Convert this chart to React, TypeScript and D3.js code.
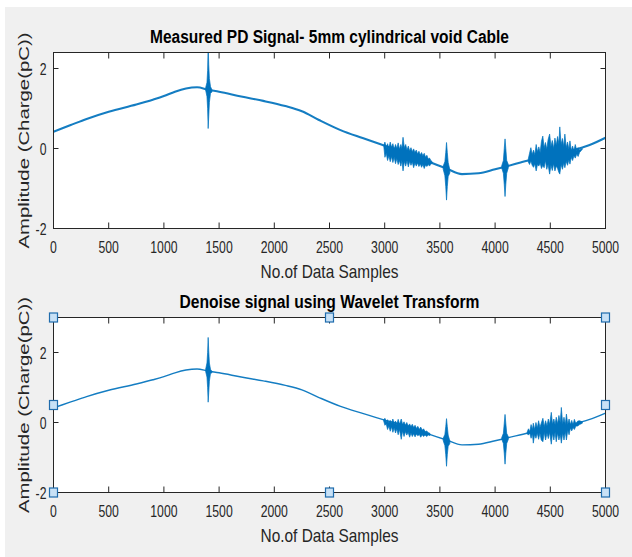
import React from 'react';
import * as d3 from 'd3';

const W = 632;
const H = 557;

const xTicks = [0, 500, 1000, 1500, 2000, 2500, 3000, 3500, 4000, 4500, 5000];
const yTicks = [-2, 0, 2];
const topYDomain: [number, number] = [-2, 2.4];
const botYDomain: [number, number] = [-2, 3];

const titles = ['Measured PD Signal- 5mm cylindrical void Cable', 'Denoise signal using Wavelet Transform'];
const xLabel = 'No.of Data Samples';
const yLabel = 'Amplitude (Charge(pC))';

// slow component of the signal: [sample, value]
const baseline: [number, number][] = [
  [0, 0.42], [150, 0.58], [300, 0.74], [500, 0.92], [750, 1.1], [900, 1.22], [1000, 1.31], [1100, 1.42],
  [1200, 1.5], [1300, 1.53], [1400, 1.47], [1500, 1.42], [1700, 1.3], [1900, 1.19], [2100, 1.06],
  [2250, 0.93], [2400, 0.72], [2600, 0.46], [2800, 0.26], [3000, 0.07], [3200, -0.1], [3400, -0.33],
  [3560, -0.5], [3700, -0.64], [3850, -0.62], [4000, -0.52], [4100, -0.45], [4300, -0.3],
  [4500, -0.18], [4700, -0.05], [4850, 0.08], [5000, 0.27],
];

// PD bursts of the measured signal: [sample, upper, lower]
const measSpikeA: [number, number, number][] = [
  [1378, 1.52, 1.46], [1390, 1.65, 1.3], [1396, 1.95, 1.0], [1401, 2.6, 0.5], [1406, 2.1, 0.8],
  [1412, 1.75, 1.15], [1422, 1.55, 1.38], [1435, 1.47, 1.41],
];
const measBurst1: [number, number, number][] = [
  [2992, 0.08, 0.05], [3002, 0.16, -0.22], [3014, 0.02, -0.12], [3026, 0.12, -0.3], [3038, 0.0, -0.18],
  [3050, 0.16, -0.33], [3062, 0.03, -0.2], [3074, 0.12, -0.35], [3086, -0.02, -0.22], [3098, 0.1, -0.38],
  [3110, 0.0, -0.25], [3122, 0.14, -0.4], [3134, -0.02, -0.3], [3146, 0.1, -0.44], [3156, 0.0, -0.3],
  [3166, 0.28, -0.56], [3178, 0.02, -0.32], [3190, 0.1, -0.44], [3202, -0.04, -0.3], [3214, 0.06, -0.46],
  [3226, -0.06, -0.32], [3238, 0.02, -0.42], [3250, -0.08, -0.34], [3262, -0.01, -0.48], [3274, -0.1, -0.36],
  [3286, -0.04, -0.44], [3298, -0.14, -0.36], [3310, -0.07, -0.45], [3322, -0.16, -0.38], [3334, -0.1, -0.47],
  [3346, -0.18, -0.4], [3358, -0.12, -0.5], [3370, -0.22, -0.41], [3382, -0.17, -0.45], [3394, -0.26, -0.4],
  [3406, -0.24, -0.44], [3418, -0.3, -0.39], [3430, -0.33, -0.37],
];
const measSpikeB: [number, number, number][] = [
  [3530, -0.44, -0.52], [3545, -0.33, -0.68], [3553, -0.1, -0.95], [3560, 0.15, -1.29],
  [3567, -0.1, -0.95], [3575, -0.35, -0.7], [3590, -0.53, -0.61],
];
const measSpikeC: [number, number, number][] = [
  [4060, -0.43, -0.49], [4075, -0.3, -0.62], [4083, 0.0, -0.9], [4090, 0.24, -1.2],
  [4097, 0.0, -0.9], [4105, -0.3, -0.62], [4120, -0.4, -0.48],
];
const measBurst2: [number, number, number][] = [
  [4300, -0.27, -0.33], [4312, -0.12, -0.4], [4324, 0.02, -0.31], [4336, -0.15, -0.42], [4348, -0.04, -0.47],
  [4360, -0.16, -0.38], [4372, 0.1, -0.56], [4384, -0.08, -0.4], [4396, 0.04, -0.44], [4408, -0.1, -0.36],
  [4420, 0.18, -0.5], [4432, 0.31, -0.42], [4444, 0.02, -0.48], [4456, 0.15, -0.3], [4468, -0.02, -0.52],
  [4480, 0.22, -0.4], [4494, 0.36, -0.64], [4506, 0.05, -0.42], [4518, 0.2, -0.55], [4530, 0.0, -0.38],
  [4542, 0.26, -0.56], [4554, 0.08, -0.44], [4566, 0.3, -0.5], [4578, 0.12, -0.6], [4586, 0.54, -0.64],
  [4598, 0.1, -0.4], [4610, 0.25, -0.52], [4622, 0.05, -0.36], [4632, 0.36, -0.48], [4644, 0.02, -0.32],
  [4656, 0.16, -0.42], [4668, -0.02, -0.28], [4678, 0.19, -0.39], [4690, -0.05, -0.22], [4702, 0.06, -0.3],
  [4714, -0.06, -0.18], [4726, 0.1, -0.24], [4740, -0.05, -0.14], [4752, 0.02, -0.2], [4765, -0.04, -0.1],
  [4790, 0.0, -0.02],
];

// PD bursts after wavelet denoising: [sample, upper, lower]
const denSpikeA: [number, number, number][] = [
  [1378, 1.52, 1.46], [1390, 1.7, 1.3], [1396, 2.0, 1.0], [1401, 2.43, 0.58], [1406, 2.05, 0.85],
  [1412, 1.7, 1.18], [1422, 1.52, 1.4], [1435, 1.46, 1.42],
];
const denBurst1: [number, number, number][] = [
  [2990, 0.07, 0.05], [3002, 0.12, -0.08], [3014, 0.02, -0.04], [3026, 0.08, -0.2], [3038, 0.0, -0.1],
  [3050, 0.06, -0.25], [3062, -0.02, -0.12], [3074, 0.1, -0.28], [3086, -0.04, -0.15], [3098, 0.04, -0.3],
  [3110, -0.06, -0.18], [3122, 0.09, -0.35], [3134, -0.05, -0.2], [3150, 0.1, -0.48], [3162, -0.06, -0.24],
  [3175, 0.02, -0.4], [3188, -0.08, -0.26], [3200, 0.0, -0.36], [3212, -0.1, -0.28], [3226, -0.04, -0.42],
  [3238, -0.12, -0.3], [3250, -0.05, -0.4], [3262, -0.14, -0.32], [3275, -0.08, -0.41], [3288, -0.17, -0.33],
  [3300, -0.11, -0.38], [3314, -0.2, -0.34], [3326, -0.13, -0.42], [3340, -0.22, -0.35], [3352, -0.18, -0.4],
  [3366, -0.26, -0.36], [3380, -0.24, -0.4], [3395, -0.29, -0.36], [3410, -0.31, -0.37],
];
const denSpikeB: [number, number, number][] = [
  [3530, -0.45, -0.52], [3545, -0.34, -0.66], [3553, -0.12, -0.92], [3560, 0.11, -1.25],
  [3567, -0.12, -0.92], [3575, -0.36, -0.68], [3590, -0.53, -0.6],
];
const denSpikeC: [number, number, number][] = [
  [4060, -0.43, -0.48], [4075, -0.31, -0.6], [4083, -0.02, -0.88], [4090, 0.23, -1.19],
  [4097, -0.02, -0.88], [4105, -0.31, -0.6], [4120, -0.41, -0.48],
];
const denBurst2: [number, number, number][] = [
  [4290, -0.28, -0.32], [4302, -0.18, -0.36], [4314, -0.26, -0.3], [4326, -0.06, -0.45], [4338, -0.2, -0.32],
  [4346, -0.02, -0.59], [4358, -0.2, -0.34], [4370, 0.0, -0.45], [4382, -0.16, -0.3], [4394, 0.05, -0.48],
  [4406, -0.14, -0.3], [4418, -0.02, -0.5], [4433, 0.12, -0.55], [4445, -0.12, -0.28], [4457, 0.05, -0.5],
  [4470, -0.1, -0.3], [4482, 0.1, -0.46], [4494, -0.06, -0.28], [4509, 0.29, -0.62], [4520, -0.05, -0.3],
  [4532, 0.1, -0.5], [4543, -0.06, -0.28], [4554, 0.15, -0.55], [4566, -0.04, -0.3], [4578, 0.2, -0.5],
  [4590, 0.0, -0.34], [4600, 0.43, -0.59], [4612, -0.04, -0.3], [4624, 0.15, -0.5], [4636, -0.06, -0.26],
  [4646, 0.24, -0.5], [4658, -0.06, -0.22], [4670, 0.1, -0.35], [4682, -0.06, -0.16], [4694, 0.06, -0.24],
  [4706, -0.07, -0.14], [4718, 0.09, -0.2], [4732, -0.04, -0.1], [4748, 0.04, -0.1], [4765, 0.05, -0.06],
  [4790, 0.02, -0.02],
];

const LINE = '#0072BD';
const AXIS = '#262626';
const FONT = '"Liberation Sans", Arial, Helvetica, sans-serif';

type PanelProps = {
  id: string;
  top: number;
  bottom: number;
  left: number;
  right: number;
  yDomain: [number, number];
  title: string;
  titleWidth: number;
  lineWidth: number;
  bursts: [number, number, number][][];
  handles: boolean;
};

function Panel(p: PanelProps) {
  const x = d3.scaleLinear().domain([0, 5000]).range([p.left, p.right]);
  const y = d3.scaleLinear().domain(p.yDomain).range([p.bottom, p.top]);
  const line = d3.line<[number, number]>().x((d) => x(d[0])).y((d) => y(d[1])).curve(d3.curveMonotoneX);
  const area = d3
    .area<[number, number, number]>()
    .x((d) => x(d[0]))
    .y0((d) => y(d[2]))
    .y1((d) => y(d[1]))
    .curve(d3.curveLinear);
  const cx = (p.left + p.right) / 2;
  const cy = (p.top + p.bottom) / 2;
  const tickLen = 6;
  const handlePts: [number, number][] = [
    [p.left, p.top], [cx, p.top], [p.right, p.top],
    [p.left, cy], [p.right, cy],
    [p.left, p.bottom], [cx, p.bottom], [p.right, p.bottom],
  ];
  return (
    <g>
      <defs>
        <clipPath id={p.id}>
          <rect x={p.left} y={p.top} width={p.right - p.left} height={p.bottom - p.top} />
        </clipPath>
      </defs>
      <rect x={p.left} y={p.top} width={p.right - p.left} height={p.bottom - p.top} fill="#ffffff" />
      <g clipPath={`url(#${p.id})`}>
        <path d={line(baseline) || ''} fill="none" stroke={LINE} strokeWidth={p.lineWidth} strokeLinejoin="round" strokeOpacity={0.92} />
        {p.bursts.map((b, i) => (
          <path key={i} d={area(b) || ''} fill={LINE} stroke={LINE} strokeWidth={0.7} strokeLinejoin="round" />
        ))}
      </g>
      <rect x={p.left} y={p.top} width={p.right - p.left} height={p.bottom - p.top} fill="none" stroke={AXIS} strokeWidth={1} />
      {xTicks.map((t) => (
        <g key={`x${t}`}>
          <line x1={x(t)} x2={x(t)} y1={p.bottom} y2={p.bottom - tickLen} stroke={AXIS} strokeWidth={1} />
          <line x1={x(t)} x2={x(t)} y1={p.top} y2={p.top + tickLen} stroke={AXIS} strokeWidth={1} />
          <text
            transform={`translate(${x(t)},${p.bottom + 24}) scale(0.72,1)`}
            textAnchor="middle"
            fontFamily={FONT}
            fontSize={17}
            fill={AXIS}
          >
            {t}
          </text>
        </g>
      ))}
      {yTicks.map((t) => (
        <g key={`y${t}`}>
          <line x1={p.left} x2={p.left + 5} y1={y(t)} y2={y(t)} stroke={AXIS} strokeWidth={1} />
          <line x1={p.right} x2={p.right - 5} y1={y(t)} y2={y(t)} stroke={AXIS} strokeWidth={1} />
          <text
            transform={`translate(${p.left - 7},${y(t) + 6}) scale(0.72,1)`}
            textAnchor="end"
            fontFamily={FONT}
            fontSize={17}
            fill={AXIS}
          >
            {t}
          </text>
        </g>
      ))}
      <text
        x={cx}
        y={p.top - 9.5}
        textAnchor="middle"
        fontFamily={FONT}
        fontWeight="bold"
        fontSize={18}
        fill="#000"
        textLength={p.titleWidth}
        lengthAdjust="spacingAndGlyphs"
      >
        {p.title}
      </text>
      <text
        x={cx}
        y={p.bottom + 49}
        textAnchor="middle"
        fontFamily={FONT}
        fontSize={19}
        fill={AXIS}
        textLength={138}
        lengthAdjust="spacingAndGlyphs"
      >
        {xLabel}
      </text>
      <text
        transform={`translate(29,${cy}) rotate(-90)`}
        textAnchor="middle"
        fontFamily={FONT}
        fontSize={14.8}
        fill={AXIS}
        textLength={216}
        lengthAdjust="spacingAndGlyphs"
      >
        {yLabel}
      </text>
      {p.handles &&
        handlePts.map(([hx, hy], i) => (
          <rect key={`h${i}`} x={hx - 4} y={hy - 4.5} width={8} height={9} fill="#c8e1f6" stroke="#1f6cad" strokeWidth={1.2} />
        ))}
    </g>
  );
}

export default function App() {
  return (
    <svg width={W} height={H} style={{ position: 'absolute', left: 0, top: 0 }}>
      <rect x={0} y={0} width={W} height={H} fill="#ffffff" />
      <rect x={5} y={7} width={W - 5} height={H - 7} fill="#f0f0f0" />
      <Panel
        id="clipTop"
        top={52.5}
        bottom={228.5}
        left={53.5}
        right={605.5}
        yDomain={topYDomain}
        title={titles[0]}
        titleWidth={359}
        lineWidth={2.1}
        bursts={[measSpikeA, measBurst1, measSpikeB, measSpikeC, measBurst2]}
        handles={false}
      />
      <Panel
        id="clipBot"
        top={317.5}
        bottom={492.5}
        left={53.5}
        right={605.5}
        yDomain={botYDomain}
        title={titles[1]}
        titleWidth={300}
        lineWidth={1.4}
        bursts={[denSpikeA, denBurst1, denSpikeB, denSpikeC, denBurst2]}
        handles={true}
      />
    </svg>
  );
}
